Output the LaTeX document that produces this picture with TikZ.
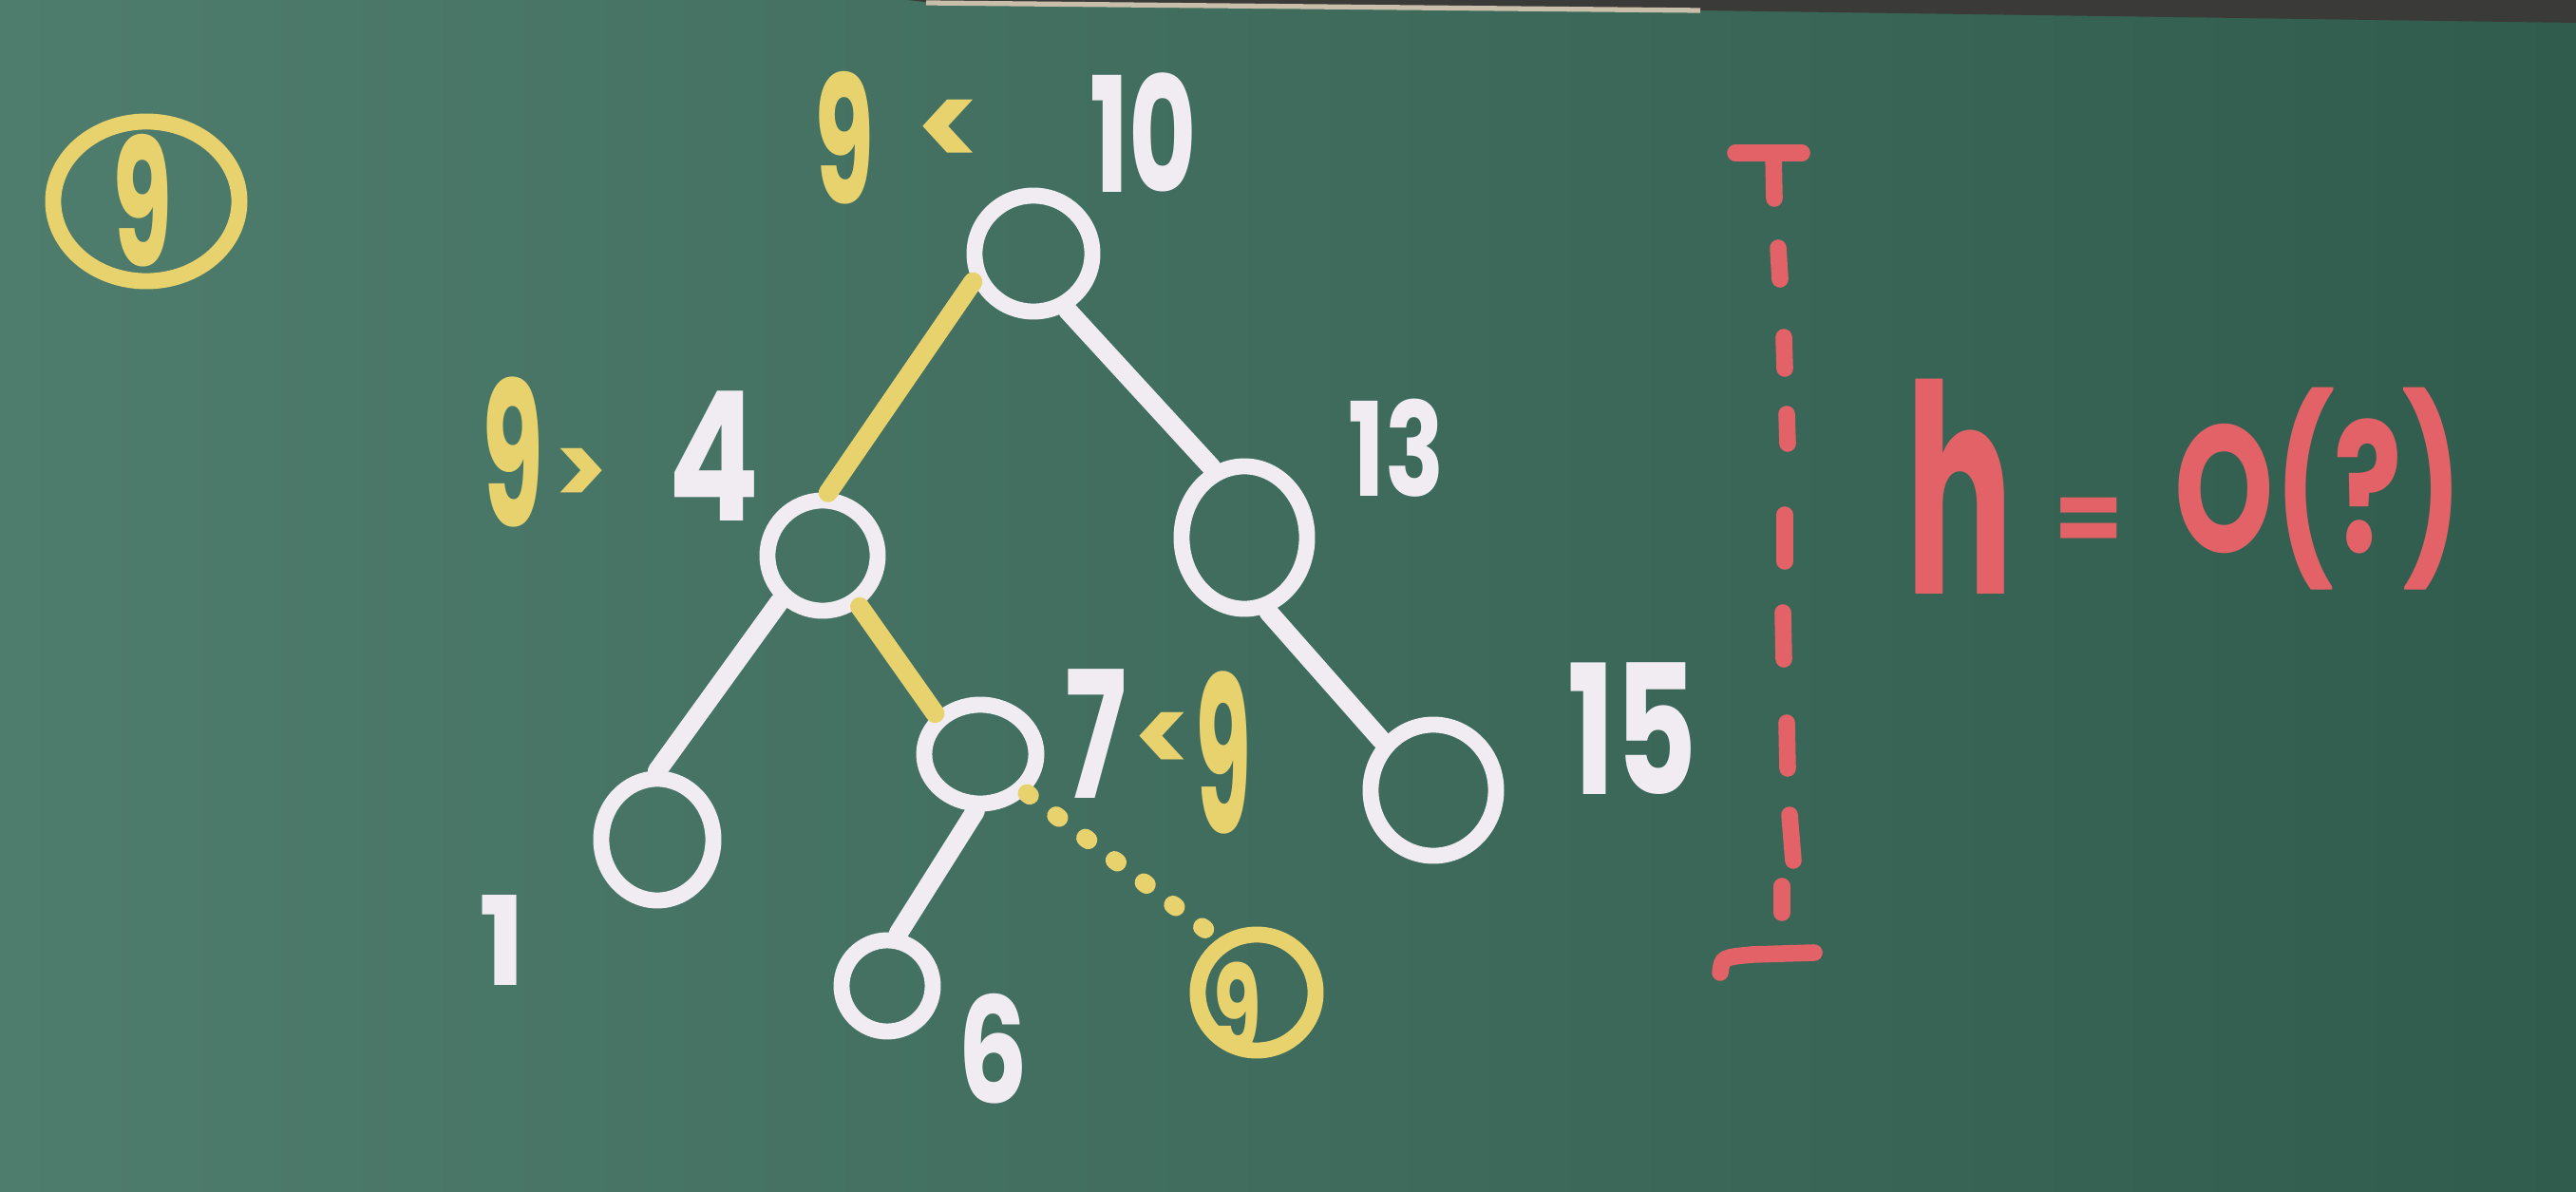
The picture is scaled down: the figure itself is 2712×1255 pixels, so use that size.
\documentclass[tikz,border=0pt]{standalone}
\usepackage{fontspec}
\setmainfont{Poppins}
\usepackage{graphicx}
\usetikzlibrary{shapes.geometric}
\definecolor{boardL}{RGB}{78,124,109}
\definecolor{boardR}{RGB}{48,92,77}
\definecolor{chalkW}{RGB}{240,236,242}
\definecolor{chalkY}{RGB}{232,210,110}
\definecolor{chalkR}{RGB}{226,98,104}
\definecolor{frameC}{RGB}{58,58,56}
\definecolor{frameE}{RGB}{200,190,170}
\newcommand{\myfs}[1]{\fontsize{#1}{#1}\selectfont\bfseries}
\newcommand{\myxs}[2]{\scalebox{#1}[1]{#2}}
\tikzset{
  wcirc/.style={ellipse, draw=chalkW, line width=4.8pt, inner sep=0pt},
  ycirc/.style={ellipse, draw=chalkY, line width=4.8pt, inner sep=0pt},
  wlbl/.style={text=chalkW, inner sep=0pt},
  ylbl/.style={text=chalkY, inner sep=0pt},
  rlbl/.style={text=chalkR, inner sep=0pt},
  wedge/.style={draw=chalkW, line width=5.7pt, line cap=round},
  yedge/.style={draw=chalkY, line width=5.7pt, line cap=round},
  ydots/.style={draw=chalkY, line width=5.5pt, line cap=round, dash pattern=on 1pt off 10pt},
  rdash/.style={draw=chalkR, line width=5pt, line cap=round},
}
\begin{document}
\begin{tikzpicture}[x=0.01cm,y=-0.01cm]
\useasboundingbox (0,0) rectangle (2712,1255);
\shade[left color=boardL, right color=boardR] (0,0) rectangle (2712,1255);
% board frame at top
\fill[frameC] (955,0) -- (1000,5) -- (1790,11) -- (2712,24) -- (2712,0) -- cycle;
\draw[frameE, line width=1.5pt] (975,3) -- (1790,11);

% key being inserted
\node[ycirc, minimum width=1.96cm, minimum height=1.68cm] (key) at (154,212) {};
\node[ylbl, font=\myfs{53}] (keyv) at (150,211) {\myxs{0.55}{9}};

% tree nodes
\node[wcirc, minimum width=1.24cm, minimum height=1.22cm] (root) at (1088,267) {};
\node[wcirc, minimum width=1.16cm, minimum height=1.16cm] (n4) at (866,585) {};
\node[wcirc, minimum width=1.32cm, minimum height=1.50cm] (n13) at (1310,566) {};
\node[wcirc, minimum width=1.18cm, minimum height=1.28cm] (n1) at (692,884) {};
\node[wcirc, minimum width=1.18cm, minimum height=1.04cm] (n7) at (1032,794) {};
\node[wcirc, minimum width=1.32cm, minimum height=1.38cm] (n15) at (1509,832) {};
\node[wcirc, minimum width=0.96cm, minimum height=0.96cm] (n6) at (934,1038) {};
\node[ycirc, minimum width=1.24cm, minimum height=1.22cm] (n9) at (1323,1045) {};
\node[ylbl, font=\myfs{36}] (n9v) at (1303,1060) {\myxs{0.65}{9}};

% labels
\node[ylbl, font=\myfs{53}] (c1a) at (889,145) {\myxs{0.55}{9}};
\node[ylbl, font=\myfs{36}] (c1b) at (999,141) {<};
\node[wlbl, font=\myfs{48}] (l10) at (1204,140) {\myxs{0.65}{10}};

\node[ylbl, font=\myfs{60}] (c2a) at (540,476) {\myxs{0.5}{9}};
\node[ylbl, font=\myfs{30}] (c2b) at (612,502) {>};
\node[wlbl, font=\myfs{54}] (l4) at (752,480) {\myxs{0.75}{4}};

\node[wlbl, font=\myfs{39}] (l13) at (1470,472) {\myxs{0.75}{13}};
\node[wlbl, font=\myfs{37}] (l1) at (529,990) {1};
\node[wlbl, font=\myfs{53}] (l7) at (1154,773) {\myxs{0.65}{7}};
\node[ylbl, font=\myfs{32}] (c3b) at (1224,782) {<};
\node[ylbl, font=\myfs{65}] (c3a) at (1288,792) {\myxs{0.42}{9}};
\node[wlbl, font=\myfs{54}] (l15) at (1719,767) {\myxs{0.7}{15}};
\node[wlbl, font=\myfs{44}] (l6) at (1045,1104) {\myxs{0.75}{6}};

% edges
\draw[yedge] (root.205) -- (n4.85);
\draw[wedge] (root.301) -- (n13.115);
\draw[wedge] (n4.227) -- (n1.90);
\draw[yedge] (n4.306) -- (n7.138);
\draw[wedge] (n13.288) -- (n15.136);
\draw[wedge] (n7.265) -- (n6.78);
\draw[ydots] (n7.320) -- (n9.126);

% height marker
\draw[rdash] (1827,161) -- (1897,161);
\draw[rdash] (1867,161) -- (1868,209);
\foreach \xa/\ya/\xb/\yb in {1872/261/1874/294, 1878/355/1879/388, 1881/436/1882/467,
  1879/542/1879/591, 1877/645/1878/694, 1881/761/1882/809, 1884/858/1888/906, 1876/933/1876/961}
  \draw[rdash] (\xa,\ya) -- (\xb,\yb);
\draw[rdash] (1811,1024) .. controls (1813,1008) .. (1845,1005) -- (1910,1003);

% height estimate
\node[rlbl, font=\myfs{87}] (hh) at (2063,512) {\myxs{0.55}{h}};
\node[rlbl, font=\myfs{30}] (eq) at (2199,553) {=};
\node[rlbl, font=\myfs{54}] (oq) at (2441,515) {\myxs{0.7}{O(?)}};
\end{tikzpicture}
\end{document}
